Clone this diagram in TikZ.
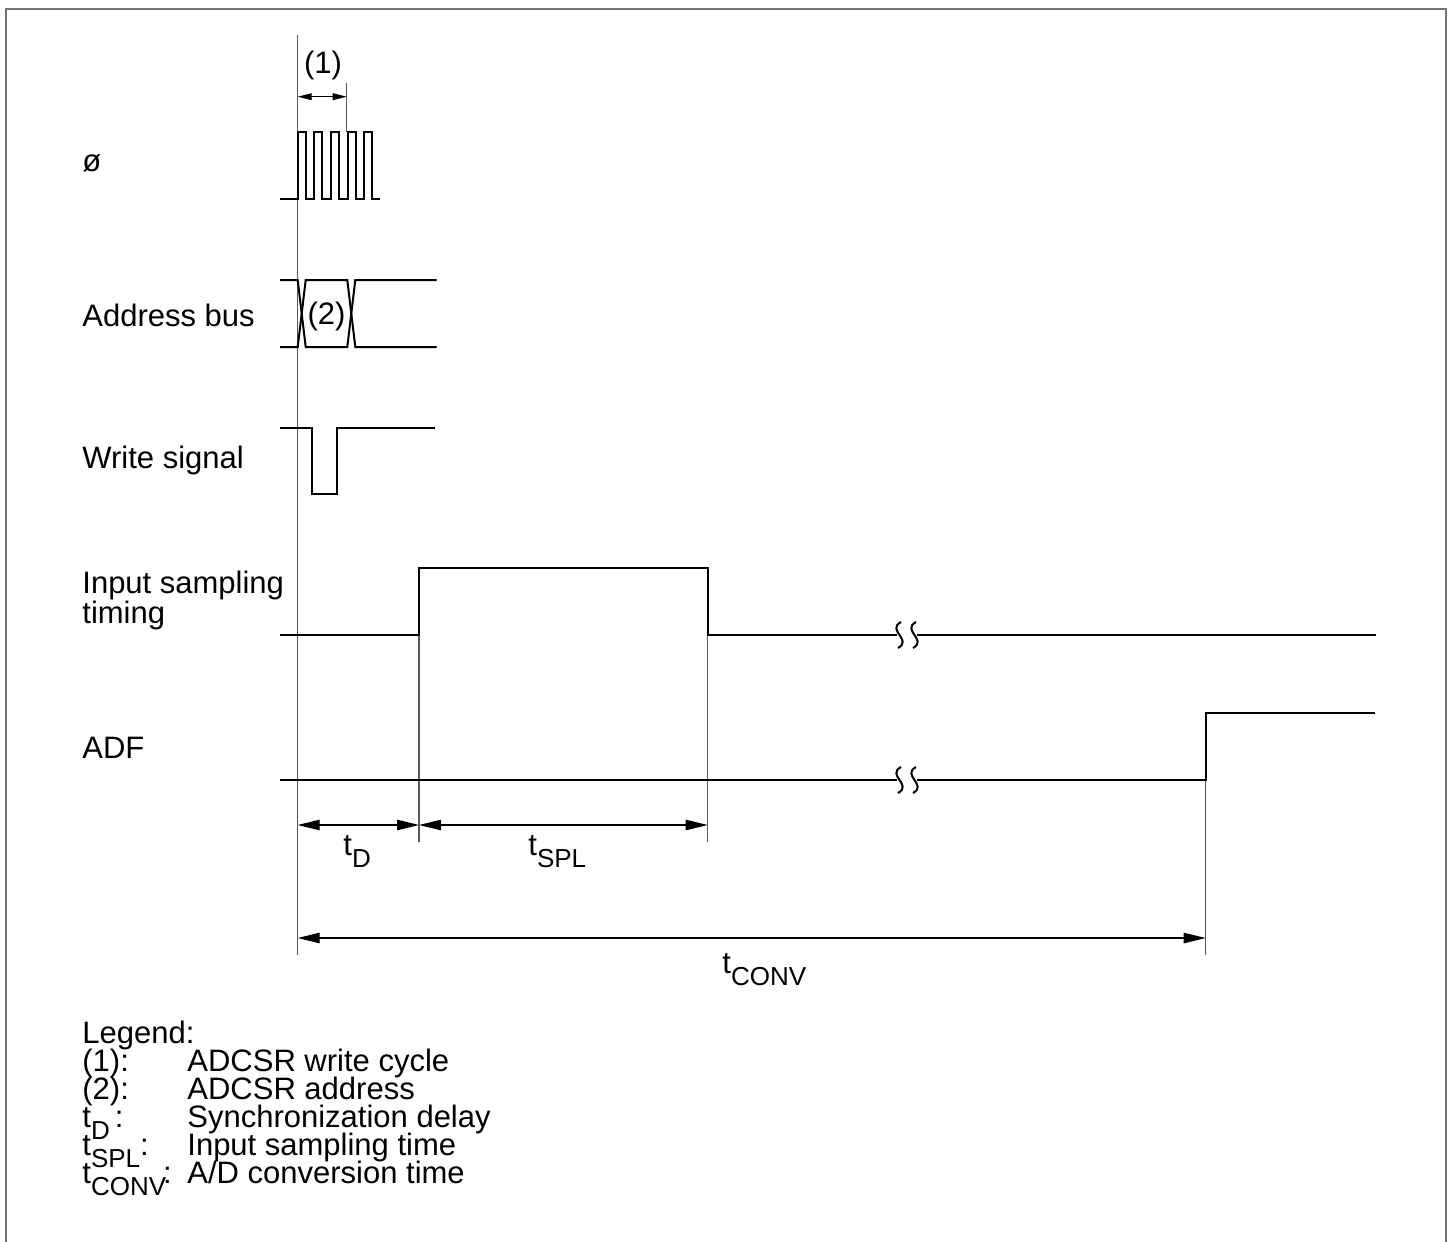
\documentclass[tikz,border=0pt]{standalone}
\usepackage{fontspec}
\setmainfont{Liberation Sans}
\usetikzlibrary{arrows.meta}
\newcommand{\tsb}[1]{t\raisebox{-6.2pt}{\fontsize{13}{14}\selectfont #1}}
\begin{document}
\begin{tikzpicture}[x=0.5pt,y=-0.5pt,
  sig/.style={line width=1pt,line join=miter},
  refl/.style={line width=0.6pt,black!65},
  dimarrow/.style={line width=0.6pt,{Triangle[length=11pt,width=5.2pt]}-{Triangle[length=11pt,width=5.2pt]}},
  smallarrow/.style={line width=0.6pt,{Triangle[length=7pt,width=3.4pt]}-{Triangle[length=7pt,width=3.4pt]}},
  txt/.style={font=\fontsize{15.5}{18}\selectfont, inner sep=0pt, anchor=base west},
  ctxt/.style={font=\fontsize{15.5}{18}\selectfont, inner sep=0pt},
  brk/.style={line width=1pt}]
\useasboundingbox (0,0) rectangle (1451,1242);
% frame
\draw[line width=1pt,black!55] (6,1242) -- (6,9) -- (1446,9) -- (1446,1242);

% signal labels
\node[txt] (lphi) at (82,171) {ø};
\node[txt] (laddr) at (82,326) {Address bus};
\node[txt] (lwr) at (82,468) {Write signal};
\node[txt] (lin1) at (82,593) {Input sampling};
\node[txt] (lin2) at (82,623) {timing};
\node[txt] (ladf) at (82,758) {ADF};

% reference coordinates
\coordinate (r0t) at (297.7,35);
\coordinate (r0b) at (297.7,955);
\coordinate (c1t) at (346.7,83);
\coordinate (c1b) at (346.7,132);
\coordinate (r1t) at (419,635);
\coordinate (r1b) at (419,842);
\coordinate (r2t) at (707.7,635);
\coordinate (r2b) at (707.7,842);
\coordinate (r3t) at (1205.7,780);
\coordinate (r3b) at (1205.7,955);

% reference lines
\draw[refl] (r0t) -- (r0b);
\draw[refl] (c1t) -- (c1b);
\draw[refl] (r1t) -- (r1b);
\draw[refl] (r2t) -- (r2b);
\draw[refl] (r3t) -- (r3b);

% clock
\draw[sig] (280,199) -| (297.7,132) -| (305.7,199) -| (314.3,132) -| (322.3,199)
  -| (331,132) -| (339,199) -| (347.7,132) -| (355.7,199) -| (364.3,132) -| (372.3,199) -- (380,199);

% (1) dimension
\coordinate (d1a) at (297.7,96.7);
\coordinate (d1b) at (346.7,96.7);
\draw[smallarrow] (d1a) -- (d1b);
\node[ctxt] (n1) at (323,65) {(1)};

% address bus
\draw[sig] (280,280) -- (297.7,280) -- (305.7,347) -- (347.3,347) -- (355.3,280) -- (436.7,280);
\draw[sig] (280,347) -- (297.7,347) -- (305.7,280) -- (347.3,280) -- (355.3,347) -- (436.7,347);
\node[ctxt] (n2) at (326.5,316) {(2)};

% write signal
\draw[sig] (280,427.7) -| (311.7,494.3) -| (336.7,427.7) -- (435,427.7);

% input sampling timing
\draw[sig] (280,635) -| (419,568) -| (707.7,635) -- (897,635);
\draw[sig] (917,635) -- (1376,635);
\foreach \yy in {635,780}{
  \draw[brk] (901,\yy-13) .. controls (886,\yy-5) and (913,\yy+5) .. (898,\yy+13);
  \draw[brk] (916,\yy-13) .. controls (901,\yy-5) and (928,\yy+5) .. (913,\yy+13);
}

% ADF
\draw[sig] (280,780) -- (897,780);
\draw[sig] (917,780) -| (1205.7,713.3) -- (1375,713.3);

% dimension arrows
\coordinate (dDa) at (297.7,825);
\coordinate (dDb) at (419,825);
\coordinate (dSb) at (707.7,825);
\coordinate (dCa) at (297.7,938);
\coordinate (dCb) at (1205.7,938);
\draw[dimarrow] (dDa) -- (dDb);
\draw[dimarrow] (dDb) -- (dSb);
\draw[dimarrow] (dCa) -- (dCb);
\node[txt] (ntd) at (343,855) {\tsb{D}};
\node[txt] (ntspl) at (528,855) {\tsb{SPL}};
\node[txt] (ntconv) at (722,973) {\tsb{CONV}};

% legend
\node[txt] (leg) at (82,1043) {Legend:};
\node[txt] (lg1a) at (82,1071) {(1):};
\node[txt] (lg1b) at (187,1071) {ADCSR write cycle};
\node[txt] (lg2a) at (82,1099) {(2):};
\node[txt] (lg2b) at (187,1099) {ADCSR address};
\node[txt] (lg3a) at (82,1127) {\tsb{D}\,:};
\node[txt] (lg3b) at (187,1127) {Synchronization delay};
\node[txt] (lg4a) at (82,1155) {\tsb{SPL}:};
\node[txt] (lg4b) at (187,1155) {Input sampling time};
\node[txt] (lg5a) at (82,1183) {\tsb{CONV}\kern-0.1em:};
\node[txt] (lg5b) at (187,1183) {A/D conversion time};
\end{tikzpicture}
\end{document}
